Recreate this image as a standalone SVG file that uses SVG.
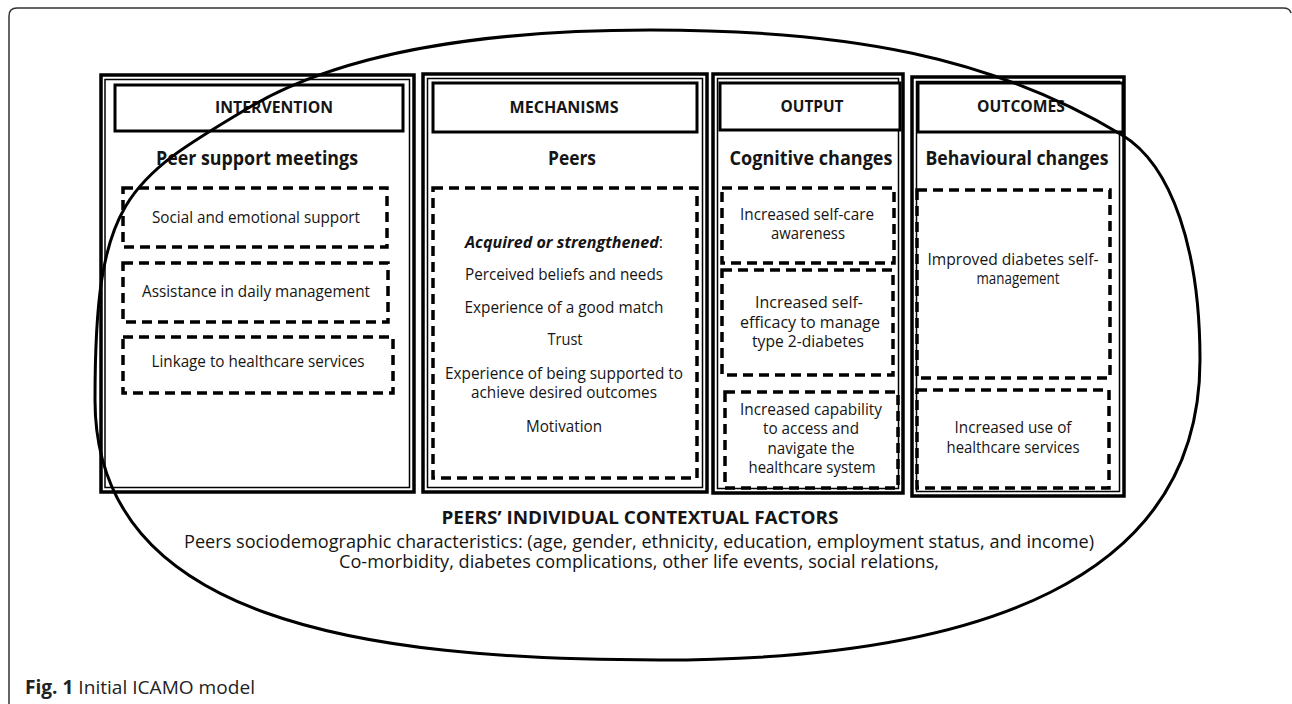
<svg xmlns="http://www.w3.org/2000/svg" width="1292" height="704" viewBox="0 0 1292 704">
<style>
text{font-family:"Open Sans","Noto Sans","DejaVu Sans",sans-serif;fill:#151515;text-anchor:middle}
.h{font-size:16.5px;font-weight:700}
.s{font-size:19.5px;font-weight:700}
.b{font-size:16.3px}
.col{fill:none;stroke:#000;stroke-width:3.5}
.colin{fill:none;stroke:#000;stroke-width:1.5}
.hdr{fill:#fff;stroke:#000;stroke-width:3}
.dash{fill:none;stroke:#000;stroke-width:3.5;stroke-dasharray:10 6}
.cap{font-size:19px;text-anchor:start;fill:#222}
</style>
<rect width="1292" height="704" fill="#fff"/>
<path d="M9,704 V16 Q9,8 17,8 H1283 Q1290,8 1291,13" fill="none" stroke="#333" stroke-width="1.5"/>

<g id="intervention">
<rect class="col" x="101" y="75" width="313" height="417"/>
<rect class="colin" x="105" y="79.5" width="304.5" height="408"/>
<rect class="hdr" x="115" y="85" width="288" height="46"/>
<text class="h" x="274" y="113" textLength="118" lengthAdjust="spacingAndGlyphs">INTERVENTION</text>
<text class="s" x="257" y="165" textLength="202" lengthAdjust="spacingAndGlyphs">Peer support meetings</text>
</g>
<g id="int-social">
<rect class="dash" x="123" y="188" width="264" height="59"/>
<text class="b" x="256" y="223" textLength="208" lengthAdjust="spacingAndGlyphs">Social and emotional support</text>
</g>
<g id="int-assist">
<rect class="dash" x="123" y="263" width="265" height="59"/>
<text class="b" x="256" y="297" textLength="228" lengthAdjust="spacingAndGlyphs">Assistance in daily management</text>
</g>
<g id="int-linkage">
<rect class="dash" x="123" y="337" width="270" height="56"/>
<text class="b" x="258" y="367" textLength="213" lengthAdjust="spacingAndGlyphs">Linkage to healthcare services</text>
</g>

<g id="mechanisms">
<rect class="col" x="423" y="74" width="284" height="418"/>
<rect class="colin" x="427.5" y="78.5" width="275" height="409"/>
<rect class="hdr" x="433" y="83" width="264" height="49"/>
<text class="h" x="564" y="113" textLength="109" lengthAdjust="spacingAndGlyphs">MECHANISMS</text>
<text class="s" x="572" y="165" textLength="48" lengthAdjust="spacingAndGlyphs">Peers</text>
</g>
<g id="mech-list">
<rect class="dash" x="433" y="188" width="264" height="290"/>
<text class="b" x="564" y="248" textLength="198" lengthAdjust="spacingAndGlyphs"><tspan font-weight="700" font-style="italic">Acquired or strengthened</tspan>:</text>
<text class="b" x="564" y="280" textLength="198" lengthAdjust="spacingAndGlyphs">Perceived beliefs and needs</text>
<text class="b" x="564" y="313" textLength="199" lengthAdjust="spacingAndGlyphs">Experience of a good match</text>
<text class="b" x="565" y="345" textLength="35" lengthAdjust="spacingAndGlyphs">Trust</text>
<text class="b" x="564" y="379" textLength="238" lengthAdjust="spacingAndGlyphs">Experience of being supported to</text>
<text class="b" x="564" y="398" textLength="186" lengthAdjust="spacingAndGlyphs">achieve desired outcomes</text>
<text class="b" x="564" y="432" textLength="76" lengthAdjust="spacingAndGlyphs">Motivation</text>
</g>

<g id="output">
<rect class="col" x="713" y="74" width="190" height="419"/>
<rect class="colin" x="717.5" y="78.5" width="181" height="410"/>
<rect class="hdr" x="720" y="83" width="180" height="47"/>
<text class="h" x="812" y="112" textLength="63" lengthAdjust="spacingAndGlyphs">OUTPUT</text>
<text class="s" x="811" y="165" textLength="163" lengthAdjust="spacingAndGlyphs">Cognitive changes</text>
</g>
<g id="out-awareness">
<rect class="dash" x="722" y="188" width="172" height="75"/>
<text class="b" x="807" y="220" textLength="134" lengthAdjust="spacingAndGlyphs">Increased self-care</text>
<text class="b" x="808" y="239" textLength="74" lengthAdjust="spacingAndGlyphs">awareness</text>
</g>
<g id="out-efficacy">
<rect class="dash" x="722" y="270" width="171" height="105"/>
<text class="b" x="809" y="308" textLength="108" lengthAdjust="spacingAndGlyphs">Increased self-</text>
<text class="b" x="810" y="328" textLength="140" lengthAdjust="spacingAndGlyphs">efficacy to manage</text>
<text class="b" x="808" y="347" textLength="112" lengthAdjust="spacingAndGlyphs">type 2-diabetes</text>
</g>
<g id="out-capability">
<rect class="dash" x="725" y="392" width="173" height="96"/>
<text class="b" x="811" y="415" textLength="142" lengthAdjust="spacingAndGlyphs">Increased capability</text>
<text class="b" x="811" y="434" textLength="96" lengthAdjust="spacingAndGlyphs">to access and</text>
<text class="b" x="811" y="454" textLength="87" lengthAdjust="spacingAndGlyphs">navigate the</text>
<text class="b" x="812" y="473" textLength="127" lengthAdjust="spacingAndGlyphs">healthcare system</text>
</g>

<g id="outcomes">
<rect class="col" x="912" y="77" width="212" height="419"/>
<rect class="colin" x="916.5" y="81.5" width="203" height="410"/>
<rect class="hdr" x="918" y="83" width="205" height="49"/>
<text class="h" x="1021" y="112" textLength="88" lengthAdjust="spacingAndGlyphs">OUTCOMES</text>
<text class="s" x="1017" y="165" textLength="183" lengthAdjust="spacingAndGlyphs">Behavioural changes</text>
</g>
<g id="oc-selfmgmt">
<rect class="dash" x="917" y="190" width="193" height="188"/>
<text class="b" x="1013" y="265" textLength="171" lengthAdjust="spacingAndGlyphs">Improved diabetes self-</text>
<text class="b" x="1018" y="284" textLength="83" lengthAdjust="spacingAndGlyphs">management</text>
</g>
<g id="oc-services">
<rect class="dash" x="917" y="390" width="192" height="98"/>
<text class="b" x="1013" y="433" textLength="117" lengthAdjust="spacingAndGlyphs">Increased use of</text>
<text class="b" x="1013" y="453" textLength="133" lengthAdjust="spacingAndGlyphs">healthcare services</text>
</g>

<g id="context">
<path d="M650,30 C850,30 992,57 1122,135 C1172,165 1200,250 1200,360 C1200,580 980,660 660,660 C360,660 95,620 95,400 C95,200 125,181 250,107 C340,54 480,30 650,30 Z" fill="none" stroke="#000" stroke-width="3"/>
<text x="640" y="524" font-size="17.5" font-weight="700" textLength="397" lengthAdjust="spacingAndGlyphs">PEERS’ INDIVIDUAL CONTEXTUAL FACTORS</text>
<text x="639" y="548" font-size="18" textLength="910" lengthAdjust="spacingAndGlyphs">Peers sociodemographic characteristics: (age, gender, ethnicity, education, employment status, and income)</text>
<text x="639" y="568" font-size="18" textLength="600" lengthAdjust="spacingAndGlyphs">Co-morbidity, diabetes complications, other life events, social relations,</text>
</g>

<g id="connectors"/>

<text class="cap" x="25" y="694" textLength="230" lengthAdjust="spacingAndGlyphs"><tspan font-weight="700">Fig. 1</tspan> Initial ICAMO model</text>
</svg>
